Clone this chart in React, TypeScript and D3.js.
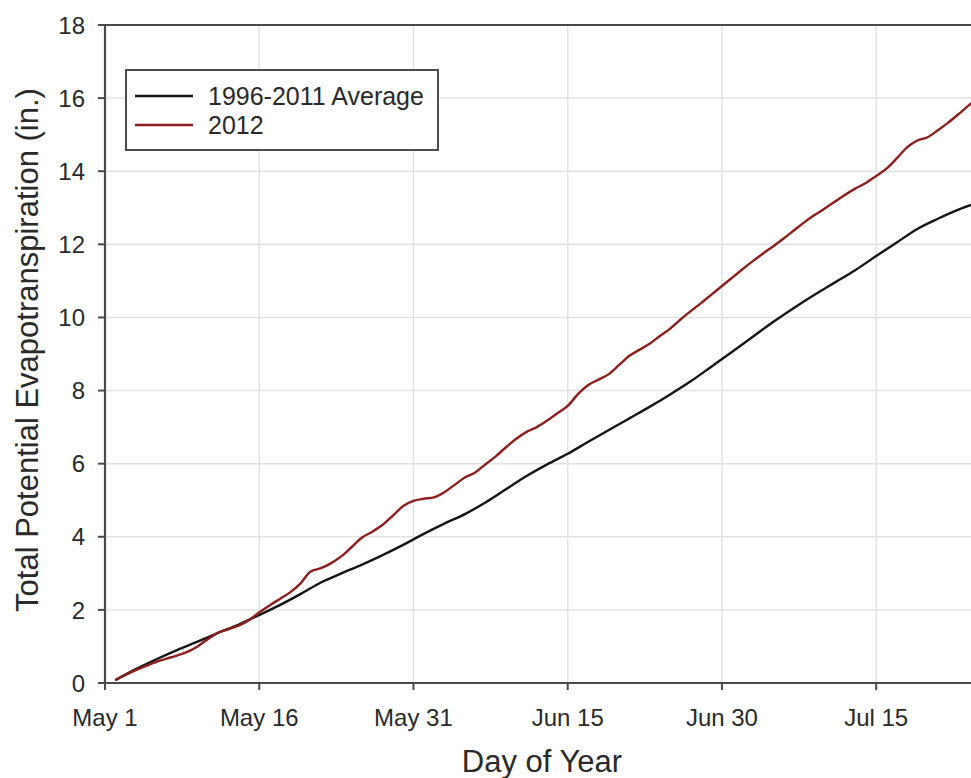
import React, { useEffect, useRef } from 'react';
import * as d3 from 'd3';

// x tick positions (days after May 1) and their labels
const tickDays = [0, 15, 30, 45, 60, 75];
const tickLabels = ['May 1', 'May 16', 'May 31', 'Jun 15', 'Jun 30', 'Jul 15'];
const yTicks = [0, 2, 4, 6, 8, 10, 12, 14, 16, 18];

// 1996-2011 average (days after May 1, cumulative inches)
const avgDays = [1, 3, 5, 7, 9, 11, 13, 15, 17, 19, 21, 23, 25, 27, 29, 31, 33, 35, 37, 39, 41, 43,
  45, 47, 49, 51, 53, 55, 57, 59, 61, 63, 65, 67, 69, 71, 73, 75, 77, 79, 81, 83, 85];
const avgValues = [0.08, 0.38, 0.65, 0.9, 1.13, 1.37, 1.6, 1.86, 2.13, 2.43, 2.75, 3.0, 3.24, 3.5,
  3.78, 4.08, 4.36, 4.62, 4.94, 5.3, 5.66, 5.98, 6.27, 6.6, 6.92, 7.24, 7.56, 7.9, 8.26, 8.66, 9.06,
  9.47, 9.88, 10.26, 10.62, 10.96, 11.3, 11.68, 12.05, 12.42, 12.7, 12.95, 13.15];

// 2012
const days2012 = [1, 2, 3, 4, 5, 6, 7, 8, 9, 10, 11, 12, 13, 14, 15, 16, 17, 18, 19, 20, 21, 22, 23,
  24, 25, 26, 27, 28, 29, 30, 31, 32, 33, 34, 35, 36, 37, 38, 39, 40, 41, 42, 43, 44, 45, 46, 47, 48,
  49, 50, 51, 52, 53, 54, 55, 56, 57, 58, 59, 60, 61, 62, 63, 64, 65, 66, 67, 68, 69, 70, 71, 72, 73,
  74, 75, 76, 77, 78, 79, 80, 81, 82, 83, 84, 85];
const values2012 = [0.08, 0.22, 0.35, 0.47, 0.58, 0.67, 0.75, 0.85, 1.0, 1.2, 1.38, 1.47, 1.57, 1.72,
  1.93, 2.12, 2.3, 2.48, 2.72, 3.05, 3.14, 3.28, 3.47, 3.72, 3.98, 4.14, 4.33, 4.58, 4.84, 4.98, 5.04,
  5.08, 5.22, 5.42, 5.62, 5.76, 5.98, 6.2, 6.45, 6.68, 6.87, 7.0, 7.18, 7.38, 7.58, 7.9, 8.15, 8.3,
  8.45, 8.7, 8.95, 9.12, 9.29, 9.5, 9.7, 9.95, 10.18, 10.4, 10.63, 10.86, 11.09, 11.32, 11.54, 11.75,
  11.95, 12.16, 12.38, 12.6, 12.8, 12.98, 13.17, 13.36, 13.53, 13.68, 13.87, 14.07, 14.35, 14.65,
  14.84, 14.93, 15.12, 15.33, 15.56, 15.8, 16.03];

const seriesNames = ['1996-2011 Average', '2012'];
const seriesColors = ['#151515', '#8e1e1e'];

export default function App() {
  const ref = useRef<SVGSVGElement>(null);

  useEffect(() => {
    const width = 971;
    const height = 778;
    const m = { left: 105, right: 979, top: 25, bottom: 683 };
    const font = '"Liberation Sans", Arial, sans-serif';

    const svg = d3.select(ref.current);
    svg.selectAll('*').remove();
    svg.attr('width', width).attr('height', height);

    const x = d3.scaleLinear().domain([0, 85]).range([m.left, m.right]);
    const y = d3.scaleLinear().domain([0, 18]).range([m.bottom, m.top]);

    svg.append('defs').append('clipPath').attr('id', 'plot-clip')
      .append('rect')
      .attr('x', m.left).attr('y', m.top)
      .attr('width', m.right - m.left).attr('height', m.bottom - m.top);

    // grid
    const grid = svg.append('g').attr('stroke', '#e2e2e2').attr('stroke-width', 1.5);
    grid.selectAll('line.gy').data(yTicks.slice(1, -1)).enter().append('line')
      .attr('x1', m.left).attr('x2', m.right)
      .attr('y1', (d) => y(d)).attr('y2', (d) => y(d));
    grid.selectAll('line.gx').data(tickDays.slice(1)).enter().append('line')
      .attr('x1', (d) => x(d)).attr('x2', (d) => x(d))
      .attr('y1', m.top).attr('y2', m.bottom);

    // lines
    const line = d3.line<[number, number]>()
      .x((d) => x(d[0]))
      .y((d) => y(d[1]))
      .curve(d3.curveMonotoneX);

    const avgData = avgDays.map((d, i) => [d, avgValues[i]] as [number, number]);
    const data2012 = days2012.map((d, i) => [d, values2012[i]] as [number, number]);

    const lines = svg.append('g').attr('clip-path', 'url(#plot-clip)');
    lines.append('path').datum(avgData)
      .attr('d', line).attr('fill', 'none')
      .attr('stroke', seriesColors[0]).attr('stroke-width', 2.4);
    lines.append('path').datum(data2012)
      .attr('d', line).attr('fill', 'none')
      .attr('stroke', seriesColors[1]).attr('stroke-width', 2.4);

    // frame (left, bottom, top)
    const axisColor = '#4a4a4a';
    svg.append('line').attr('x1', m.left).attr('x2', m.right).attr('y1', m.top).attr('y2', m.top)
      .attr('stroke', axisColor).attr('stroke-width', 2.2);
    svg.append('line').attr('x1', m.left).attr('x2', m.right).attr('y1', m.bottom).attr('y2', m.bottom)
      .attr('stroke', axisColor).attr('stroke-width', 2.2);
    svg.append('line').attr('x1', m.left).attr('x2', m.left).attr('y1', m.top).attr('y2', m.bottom)
      .attr('stroke', axisColor).attr('stroke-width', 2.2);

    // y ticks
    svg.selectAll('line.yt').data(yTicks).enter().append('line')
      .attr('x1', m.left - 7).attr('x2', m.left)
      .attr('y1', (d) => y(d)).attr('y2', (d) => y(d))
      .attr('stroke', axisColor).attr('stroke-width', 2);
    svg.selectAll('text.yl').data(yTicks).enter().append('text')
      .attr('x', 85).attr('y', (d) => y(d)).attr('dy', '0.36em')
      .attr('text-anchor', 'end')
      .attr('font-family', font).attr('font-size', 24).attr('fill', '#2a2a2a')
      .text((d) => d);

    // x ticks
    svg.selectAll('line.xt').data(tickDays).enter().append('line')
      .attr('x1', (d) => x(d)).attr('x2', (d) => x(d))
      .attr('y1', m.bottom).attr('y2', m.bottom + 7)
      .attr('stroke', axisColor).attr('stroke-width', 2);
    svg.selectAll('text.xl').data(tickDays).enter().append('text')
      .attr('x', (d) => x(d)).attr('y', 726)
      .attr('text-anchor', 'middle')
      .attr('font-family', font).attr('font-size', 24).attr('fill', '#2a2a2a')
      .text((d, i) => tickLabels[i]);

    // axis titles
    svg.append('text')
      .attr('x', 542).attr('y', 772)
      .attr('text-anchor', 'middle')
      .attr('font-family', font).attr('font-size', 31).attr('fill', '#2a2a2a')
      .text('Day of Year');
    svg.append('text')
      .attr('transform', 'translate(38,350) rotate(-90)')
      .attr('text-anchor', 'middle')
      .attr('font-family', font).attr('font-size', 31).attr('fill', '#2a2a2a')
      .text('Total Potential Evapotranspiration (in.)');

    // legend
    const legend = svg.append('g');
    legend.append('rect')
      .attr('x', 126).attr('y', 70).attr('width', 312).attr('height', 80)
      .attr('fill', 'white').attr('stroke', '#3a3a3a').attr('stroke-width', 1.8);
    seriesNames.forEach((name, i) => {
      const ly = 96 + i * 29;
      legend.append('line')
        .attr('x1', 135).attr('x2', 193).attr('y1', ly).attr('y2', ly)
        .attr('stroke', seriesColors[i]).attr('stroke-width', 2.4);
      legend.append('text')
        .attr('x', 208).attr('y', ly).attr('dy', '0.36em')
        .attr('font-family', font).attr('font-size', 25).attr('fill', '#2a2a2a')
        .text(name);
    });
  }, []);

  return (
    <div style={{ position: 'absolute', left: 0, top: 0 }}>
      <svg ref={ref} style={{ display: 'block' }} />
    </div>
  );
}
